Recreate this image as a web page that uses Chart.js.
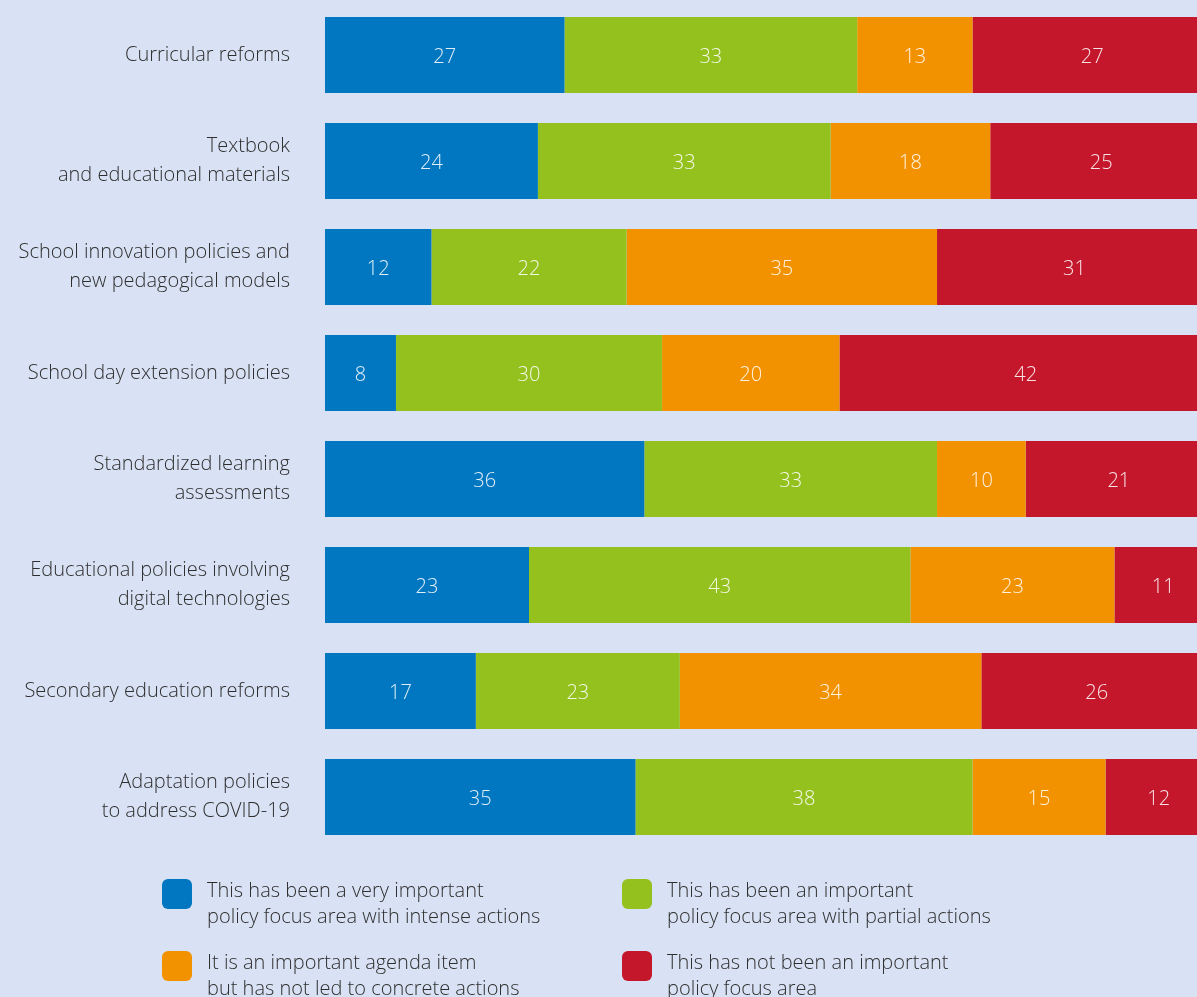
<!DOCTYPE html>
<html>
<head>
<meta charset="utf-8">
<script src="https://cdn.jsdelivr.net/npm/chart.js@4/dist/chart.umd.min.js"></script>
<style>
  html, body { margin: 0; padding: 0; background: #d9e2f4; overflow: hidden; }
  #wrap { width: 1212px; height: 997px; }
</style>
</head>
<body>
<div id="wrap"><canvas id="chart" width="1212" height="997"></canvas></div>
<script>
const categories = [
  'Curricular reforms',
  ['Textbook', 'and educational materials'],
  ['School innovation policies and', 'new pedagogical models'],
  'School day extension policies',
  ['Standardized learning', 'assessments'],
  ['Educational policies involving', 'digital technologies'],
  'Secondary education reforms',
  ['Adaptation policies', 'to address COVID-19']
];
const intense = [27, 24, 12, 8, 36, 23, 17, 35];
const partial = [33, 33, 22, 30, 33, 43, 23, 38];
const agenda  = [13, 18, 35, 20, 10, 23, 34, 15];
const notImp  = [27, 25, 31, 42, 21, 11, 26, 12];

const seriesLabels = [
  ['This has been a very important', 'policy focus area with intense actions'],
  ['This has been an important', 'policy focus area with partial actions'],
  ['It is an important agenda item', 'but has not led to concrete actions'],
  ['This has not been an important', 'policy focus area']
];
const colors = ['#0077c0', '#95c11f', '#f39200', '#c4172c'];

const FONT = '"Open Sans", "Noto Sans", sans-serif';

// numbers in the middle of each segment
const valueLabels = {
  id: 'valueLabels',
  afterDatasetsDraw(chart) {
    const ctx = chart.ctx;
    ctx.save();
    ctx.font = '300 20px ' + FONT;
    ctx.fillStyle = 'rgba(255,255,255,0.88)';
    ctx.textAlign = 'center';
    ctx.textBaseline = 'middle';
    chart.data.datasets.forEach((ds, i) => {
      chart.getDatasetMeta(i).data.forEach((bar, j) => {
        const cx = (bar.x + bar.base) / 2;
        ctx.fillText(String(ds.data[j]), cx, bar.y + 2);
      });
    });
    ctx.restore();
  }
};

// two-column legend with two-line labels below the bars
const blockLegend = {
  id: 'blockLegend',
  afterDraw(chart) {
    const ctx = chart.ctx;
    ctx.save();
    ctx.font = '300 20px ' + FONT;
    ctx.textBaseline = 'middle';
    ctx.textAlign = 'left';
    const colX = [162, 622];
    const rowY = [879, 951];
    chart.data.datasets.forEach((ds, i) => {
      const x = colX[i % 2];
      const y = rowY[Math.floor(i / 2)];
      ctx.fillStyle = ds.backgroundColor;
      ctx.beginPath();
      ctx.roundRect(x, y, 30, 30, 6);
      ctx.fill();
      ctx.fillStyle = '#2e2e2e';
      ds.legendText.forEach((line, k) => {
        ctx.fillText(line, x + 45, y + 12 + k * 26.5);
      });
    });
    ctx.restore();
  }
};

const mk = (data, i) => ({
  label: seriesLabels[i].join(' '),
  legendText: seriesLabels[i],
  data: data,
  backgroundColor: colors[i],
  borderWidth: 0,
  barPercentage: 0.717,
  categoryPercentage: 1
});

new Chart(document.getElementById('chart'), {
  type: 'bar',
  data: {
    labels: categories,
    datasets: [mk(intense, 0), mk(partial, 1), mk(agenda, 2), mk(notImp, 3)]
  },
  options: {
    indexAxis: 'y',
    responsive: false,
    animation: false,
    layout: { padding: { top: 2, bottom: 147, right: 0, left: 0 } },
    plugins: { legend: { display: false }, tooltip: { enabled: false } },
    scales: {
      x: { stacked: true, min: 0, max: 100, display: false },
      y: {
        stacked: true,
        grid: { display: false, drawTicks: false },
        border: { display: false },
        afterFit(scale) {
          scale.width = 325;
          scale.paddingTop = 0;
          scale.paddingBottom = 0;
        },
        ticks: {
          padding: 35,
          color: '#2e2e2e',
          font: { family: FONT, size: 20, weight: 300, lineHeight: 1.45 }
        }
      }
    }
  },
  plugins: [valueLabels, blockLegend]
});
</script>
</body>
</html>
